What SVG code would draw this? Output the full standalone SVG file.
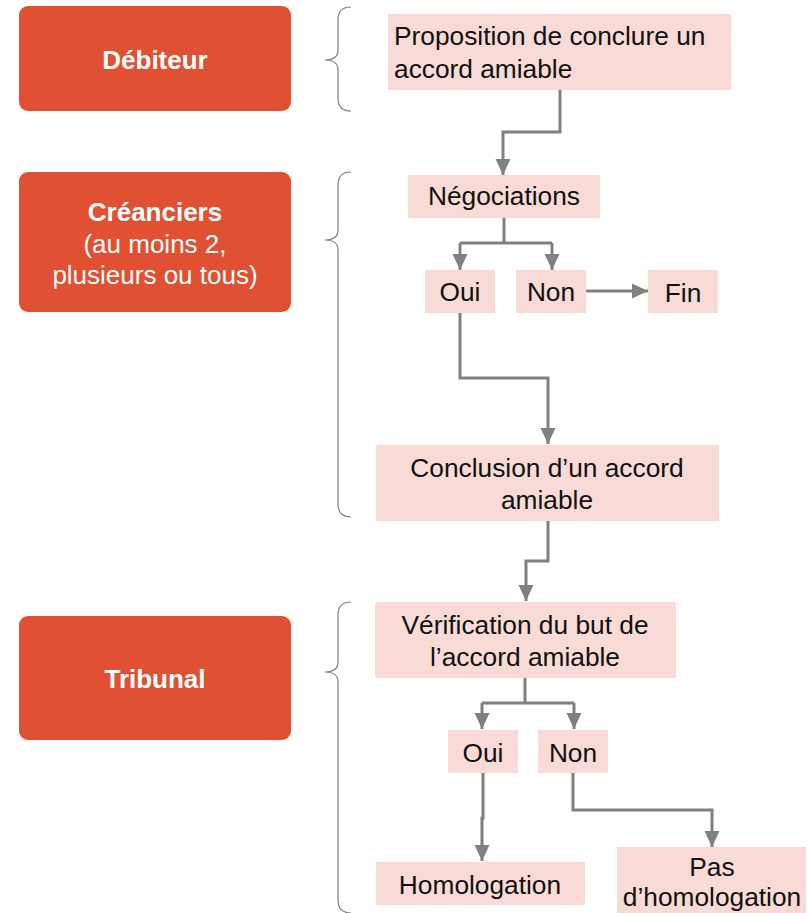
<svg xmlns="http://www.w3.org/2000/svg" width="808" height="913" viewBox="0 0 808 913">
<style>
.role{fill:#E05032}
.box{fill:#F8DBD6}
.rt{font-family:"Liberation Sans",Arial,sans-serif;fill:#fff;text-anchor:middle;font-size:26px}
.b{font-weight:bold}
.t{font-family:"Liberation Sans",Arial,sans-serif;fill:#111;font-size:26.3px;text-anchor:middle}
.brace{fill:none;stroke:#7F7F7F;stroke-width:1.2}
.c{fill:none;stroke:#808080;stroke-width:3;marker-end:url(#ah)}
.c2{fill:none;stroke:#808080;stroke-width:3}
</style>
<defs>
<marker id="ah" markerUnits="userSpaceOnUse" markerWidth="16" markerHeight="16" refX="16" refY="8" orient="auto" viewBox="0 0 16 16">
<path d="M0,0.5 L16,8 L0,15.5 Z" fill="#808080"/>
</marker>
</defs>
<g id="debiteur"><rect class="role" x="19" y="6" width="272" height="105" rx="9"/><text class="rt b" x="155" y="69">Débiteur</text></g>
<g id="creanciers"><rect class="role" x="19" y="172" width="272" height="140" rx="9"/>
<text class="rt b" x="155" y="221">Créanciers</text>
<text class="rt" x="155" y="253">(au moins 2,</text>
<text class="rt" x="155" y="284">plusieurs ou tous)</text></g>
<g id="tribunal"><rect class="role" x="19" y="616" width="272" height="124" rx="9"/><text class="rt b" x="155" y="688">Tribunal</text></g>
<g id="braces">
<path class="brace" d="M351,7 Q338,7 338,20 L338,50 Q338,60 325,60 Q338,60 338,70 L338,98 Q338,111 351,111"/>
<path class="brace" d="M351,172 Q338,172 338,185 L338,230 Q338,240 325,240 Q338,240 338,250 L338,504 Q338,517 351,517"/>
<path class="brace" d="M351,602 Q338,602 338,615 L338,662 Q338,672 325,672 Q338,672 338,682 L338,900 Q338,913 351,913"/>
</g>
<g id="proposition"><rect class="box" x="388" y="14" width="343" height="76"/>
<text class="t" style="text-anchor:start" x="394" y="45">Proposition de conclure un</text>
<text class="t" style="text-anchor:start" x="394" y="78">accord amiable</text></g>
<g id="negociations"><rect class="box" x="408" y="175" width="192" height="43"/><text class="t" x="504" y="205">Négociations</text></g>
<g id="oui1"><rect class="box" x="425" y="270" width="70" height="43"/><text class="t" x="460" y="301">Oui</text></g>
<g id="non1"><rect class="box" x="516" y="270" width="70" height="43"/><text class="t" x="551" y="301">Non</text></g>
<g id="fin"><rect class="box" x="648" y="270" width="70" height="43"/><text class="t" x="683" y="302">Fin</text></g>
<g id="conclusion"><rect class="box" x="376" y="445" width="343" height="76"/>
<text class="t" x="547" y="477">Conclusion d’un accord</text>
<text class="t" x="547" y="509">amiable</text></g>
<g id="verification"><rect class="box" x="375" y="602" width="301" height="76"/>
<text class="t" x="525" y="634">Vérification du but de</text>
<text class="t" x="525" y="666">l’accord amiable</text></g>
<g id="oui2"><rect class="box" x="448" y="730" width="70" height="43"/><text class="t" x="483" y="762">Oui</text></g>
<g id="non2"><rect class="box" x="538" y="730" width="70" height="43"/><text class="t" x="573" y="762">Non</text></g>
<g id="homologation"><rect class="box" x="376" y="862" width="209" height="43"/><text class="t" x="480" y="894">Homologation</text></g>
<g id="pas"><rect class="box" x="617" y="847" width="189" height="66"/>
<text class="t" x="712" y="876">Pas</text>
<text class="t" x="712" y="906">d’homologation</text></g>
<g id="connectors">
<path class="c" d="M560,90 V132 H503 V175"/>
<path class="c2" d="M504,218 V243 H460 M504,243 H552"/>
<path class="c" d="M460,243 V270"/>
<path class="c" d="M552,243 V270"/>
<path class="c" d="M586,291 H648"/>
<path class="c" d="M460,313 V378 H548 V444"/>
<path class="c" d="M548,521 V561 H526 V601"/>
<path class="c2" d="M525,678 V703 H482 M525,703 H574"/>
<path class="c" d="M482,703 V729"/>
<path class="c" d="M574,703 V729"/>
<path class="c" d="M483,773 V818 H482 V861"/>
<path class="c" d="M573,773 V810 H712 V847"/>
</g>
</svg>
